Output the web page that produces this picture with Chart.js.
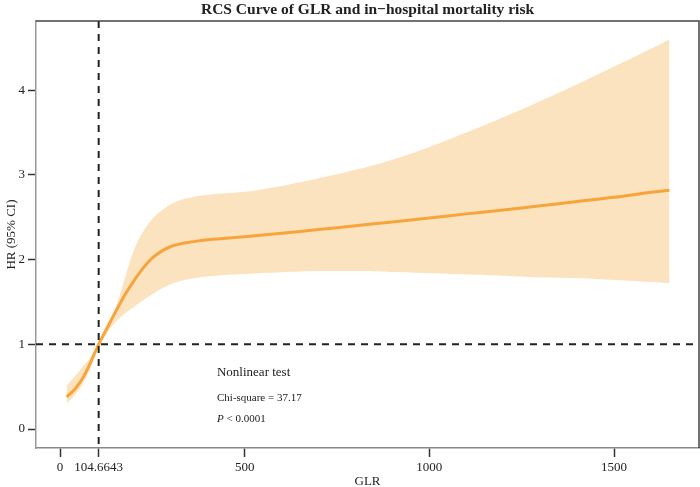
<!DOCTYPE html>
<html>
<head>
<meta charset="utf-8">
<script src="https://cdn.jsdelivr.net/npm/chart.js@4/dist/chart.umd.min.js"></script>
<style>
  body { margin: 0; background: #fff; }
  .wrap { width: 700px; height: 487px; }
</style>
</head>
<body>
<div class="wrap"><canvas id="myChart"></canvas></div>
<script>
// datos
const glr = [18, 40, 60, 80, 104.6643, 125, 150, 175, 200, 225, 250, 275, 300, 325, 350, 400, 500, 600, 700, 800, 900, 1000, 1100, 1200, 1300, 1400, 1500, 1600, 1650];
const hr = [0.38, 0.47, 0.59, 0.76, 1.00, 1.17, 1.38, 1.58, 1.75, 1.90, 2.02, 2.10, 2.155, 2.185, 2.205, 2.235, 2.27, 2.31, 2.355, 2.40, 2.445, 2.49, 2.54, 2.585, 2.635, 2.685, 2.735, 2.795, 2.82];
const hrUpper = [0.51, 0.62, 0.73, 0.83, 1.02, 1.22, 1.43, 1.77, 2.11, 2.33, 2.48, 2.58, 2.655, 2.70, 2.73, 2.765, 2.80, 2.87, 2.96, 3.06, 3.18, 3.33, 3.50, 3.68, 3.87, 4.07, 4.28, 4.49, 4.60];
const hrLower = [0.30, 0.40, 0.52, 0.70, 0.98, 1.12, 1.26, 1.36, 1.44, 1.52, 1.59, 1.66, 1.71, 1.745, 1.77, 1.80, 1.83, 1.85, 1.865, 1.865, 1.855, 1.84, 1.825, 1.81, 1.79, 1.78, 1.76, 1.735, 1.72];

const xTicks = [0, 104.6643, 500, 1000, 1500];
const xTickLabels = ["0", "104.6643", "500", "1000", "1500"];
const yTicks = [0, 1, 2, 3, 4];
const refX = 104.6643;
const refY = 1;

const titulo = "RCS Curve of GLR and in\u2212hospital mortality risk";
const chiSq = "Chi-square = 37.17";

const serif = "'Liberation Serif', 'Times New Roman', serif";

function puntos(ys) {
  return glr.map((x, i) => ({x: x, y: ys[i]}));
}

// lineas de referencia, caja y textos
const extras = {
  id: "extras",
  afterDatasetsDraw(chart) {
    let ctx = chart.ctx;
    let a = chart.chartArea;
    let sx = chart.scales.x;
    let sy = chart.scales.y;
    ctx.save();
    ctx.strokeStyle = "#222";
    ctx.lineWidth = 2;
    ctx.setLineDash([7, 6]);
    let px = sx.getPixelForValue(refX);
    ctx.beginPath();
    ctx.moveTo(px, a.top);
    ctx.lineTo(px, a.bottom);
    ctx.stroke();
    let py = sy.getPixelForValue(refY);
    ctx.beginPath();
    ctx.moveTo(a.left, py);
    ctx.lineTo(a.right, py);
    ctx.stroke();
    ctx.setLineDash([]);

    // caja arriba y derecha
    ctx.strokeStyle = "#444";
    ctx.lineWidth = 1.5;
    ctx.beginPath();
    ctx.moveTo(a.left, a.top);
    ctx.lineTo(a.right, a.top);
    ctx.lineTo(a.right, a.bottom);
    ctx.stroke();

    ctx.fillStyle = "#222";
    ctx.textBaseline = "middle";
    ctx.textAlign = "center";
    ctx.font = "bold 15.5px " + serif;
    ctx.fillText(titulo, (a.left + a.right) / 2, 10);
    ctx.font = "13px " + serif;
    ctx.fillText("GLR", (a.left + a.right) / 2, 482);
    ctx.save();
    ctx.translate(12, (a.top + a.bottom) / 2);
    ctx.rotate(-Math.PI / 2);
    ctx.fillText("HR (95% CI)", 0, 0);
    ctx.restore();

    // test no lineal
    let tx = sx.getPixelForValue(425);
    ctx.textAlign = "left";
    ctx.font = "13px " + serif;
    ctx.fillText("Nonlinear test", tx, 373);
    ctx.font = "11px " + serif;
    ctx.fillText(chiSq, tx, 398);
    ctx.font = "italic 11px " + serif;
    ctx.fillText("P", tx, 419);
    let w = ctx.measureText("P").width;
    ctx.font = "11px " + serif;
    ctx.fillText(" < 0.0001", tx + w, 419);
    ctx.restore();
  }
};

let data = {
  datasets: [
    {
      label: "upper",
      data: puntos(hrUpper),
      borderWidth: 0,
      pointRadius: 0,
      backgroundColor: "rgba(252, 227, 192, 1)",
      fill: 1,
      tension: 0.4
    },
    {
      label: "lower",
      data: puntos(hrLower),
      borderWidth: 0,
      pointRadius: 0,
      fill: false,
      tension: 0.4
    },
    {
      label: "HR",
      data: puntos(hr),
      borderColor: "#F7A43B",
      borderWidth: 3,
      pointRadius: 0,
      fill: false,
      tension: 0.4
    }
  ]
};

let config = {
  type: "line",
  data: data,
  options: {
    responsive: true,
    maintainAspectRatio: false,
    animation: false,
    layout: { padding: { top: 21, right: 1, left: 0, bottom: 0 } },
    plugins: {
      legend: { display: false },
      tooltip: { enabled: false },
      filler: { drawTime: "beforeDatasetsDraw" }
    },
    scales: {
      x: {
        type: "linear",
        min: -65,
        max: 1730,
        afterFit: s => { s.height = 39; },
        afterBuildTicks: s => { s.ticks = xTicks.map(v => ({value: v})); },
        grid: { drawOnChartArea: false, drawTicks: true, tickLength: 9, color: "#333", tickWidth: 1.5 },
        border: { display: true, color: "#888", width: 1.5 },
        ticks: {
          padding: 3,
          maxRotation: 0,
          autoSkip: false,
          color: "#222",
          font: { family: serif, size: 13 },
          callback: (v, i) => xTickLabels[i]
        }
      },
      y: {
        min: -0.224,
        max: 4.817,
        afterFit: s => { s.width = 36; },
        afterBuildTicks: s => { s.ticks = yTicks.map(v => ({value: v})); },
        grid: { drawOnChartArea: false, drawTicks: true, tickLength: 8, color: "#333", tickWidth: 1.5 },
        border: { display: true, color: "#999", width: 1.5 },
        ticks: {
          padding: 3,
          color: "#222",
          font: { family: serif, size: 13 },
          callback: v => String(v)
        }
      }
    }
  },
  plugins: [extras]
};

var myChart = new Chart(document.getElementById("myChart"), config);
</script>
</body>
</html>
